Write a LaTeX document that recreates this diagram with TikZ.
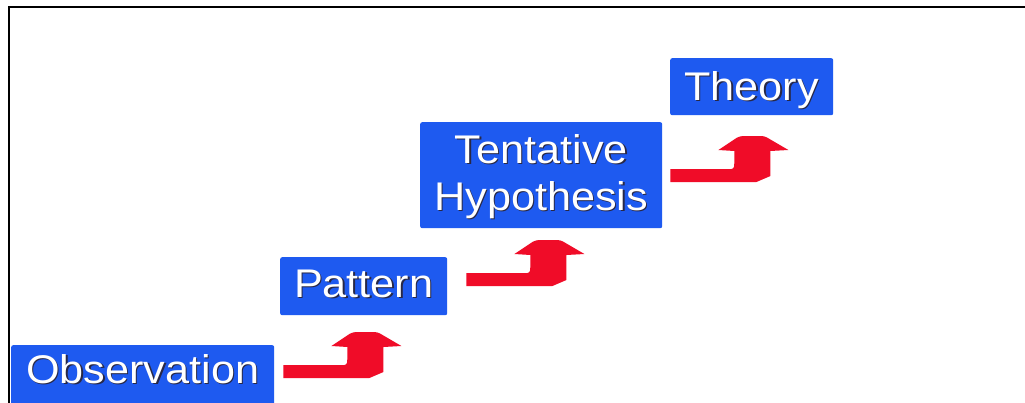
\documentclass[tikz,border=0pt]{standalone}
\usepackage{fontspec}
\setmainfont[FakeStretch=1.08]{Liberation Sans}
\usetikzlibrary{calc}

\definecolor{boxblue}{RGB}{30,90,240}
\definecolor{arrowred}{RGB}{240,12,40}
\definecolor{glyphshade}{RGB}{40,40,70}

% white lettering with a dark drop shadow
\newcommand\shadedword[1]{\leavevmode\rlap{\textcolor{glyphshade}{\kern1.4pt\raisebox{-1.4pt}{#1}}}#1}

\tikzset{
  stage/.style={fill=boxblue, rounded corners=2pt, inner sep=0pt,
    anchor=north west, text=white, align=center,
    font=\fontsize{40}{47}\selectfont},
  steparrow/.pic={
    \fill[arrowred] (0,0) -- (0,-13) -- (61,-13)
      to[out=0,in=-90] (64,-20) -- (64,-31) -- (48,-32)
      -- (66,-44) [rounded corners=3pt] -- (70,-46) -- (94,-46) [sharp corners]
      -- (118,-32) -- (100,-31) -- (100,-6) -- (86,0) -- cycle;
  }
}

\begin{document}
\begin{tikzpicture}[x=1pt,y=-1pt]
  \useasboundingbox (0,0) rectangle (1025,402);
  \clip (0,0) rectangle (1025,402);
  \fill[white] (0,0) rectangle (1025,402);

  % frame along the top and left edges
  \draw[line width=2.5pt, line cap=rect] (9,402) -- (9,7) -- (1030,7);

  % the four stages
  \node[stage, minimum width=263pt, text height=38pt, text depth=27pt]
    (obs) at (11,345) {\shadedword{Observation}};
  \node[stage, minimum width=167pt, text height=40pt, text depth=18pt]
    (pat) at (280,257) {\shadedword{Pattern}};
  \node[stage, minimum width=242pt, text height=88pt, text depth=18pt]
    (hyp) at (420,122) {\shadedword{Tentative}\\\shadedword{Hypothesis}};
  \node[stage, minimum width=163pt, text height=42pt, text depth=15pt]
    (the) at (670,58) {\shadedword{Theory}};

  % stepping arrows between stages
  \pic at ($(obs.north east)+(9,33)$) {steparrow};
  \pic at ($(pat.north east)+(19,29)$) {steparrow};
  \pic at ($(hyp.north east)+(8,60)$) {steparrow};
\end{tikzpicture}
\end{document}
